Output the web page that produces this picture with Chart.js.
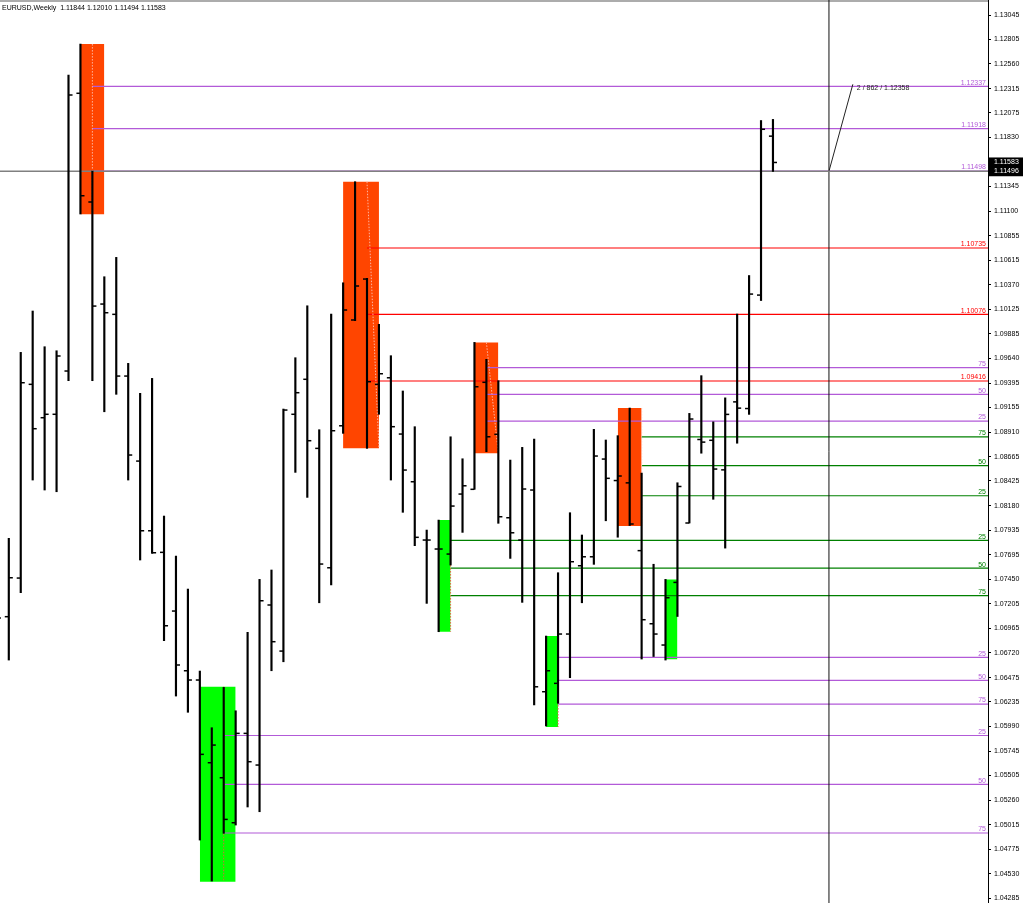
<!DOCTYPE html>
<html>
<head>
<meta charset="utf-8">
<script src="https://cdn.jsdelivr.net/npm/chart.js@4.4.1/dist/chart.umd.min.js"></script>
<style>
  html, body { margin: 0; padding: 0; background: #fff; }
  canvas { display: block; }
</style>
</head>
<body>
<canvas id="priceChart" width="1023" height="903"></canvas>
<script>
const symbolTitle = 'EURUSD,Weekly  1.11844 1.12010 1.11494 1.11583';

// weekly OHLC, oldest first; bar -1 is cut by the left edge
const firstBar = -1;
const opens  = [1.06947, 1.07079, 1.07462, 1.09383, 1.09052, 1.09086, 1.09515, 1.12269, 1.11191, 1.10179,
                1.10077, 1.09465, 1.08622, 1.07931, 1.07717, 1.07135, 1.06543, 1.06451, 1.05631, 1.05482,
                1.05036, 1.05922, 1.05608, 1.07195, 1.06738, 1.09086, 1.09433, 1.08748, 1.07564, 1.08972,
                1.10021, 1.10427, 1.09383, 1.09448, 1.08890, 1.08417, 1.07839, 1.07750, 1.07700, 1.08295,
                1.08342, 1.09403, 1.08887, 1.08060, 1.07839, 1.08335, 1.06335, 1.06418, 1.06907, 1.07584,
                1.07673, 1.08642, 1.08429, 1.08406, 1.07734, 1.07009, 1.06798, 1.07419, 1.08008, 1.08836,
                1.08828, 1.08535, 1.09209, 1.09143, 1.10268, 1.11844];
const highs  = [1.07244, 1.07856, 1.09700, 1.10110, 1.09756, 1.09716, 1.12450, 1.12757, 1.11498, 1.10450,
                1.10642, 1.09591, 1.09294, 1.09442, 1.08077, 1.07680, 1.07353, 1.06540, 1.05978, 1.06378,
                1.06146, 1.06924, 1.07449, 1.07542, 1.09138, 1.09647, 1.10162, 1.08933, 1.10080, 1.10390,
                1.11392, 1.10434, 1.09978, 1.09667, 1.09317, 1.08963, 1.07938, 1.08037, 1.08863, 1.08645,
                1.09799, 1.09631, 1.09419, 1.08632, 1.08758, 1.08841, 1.06887, 1.07515, 1.08110, 1.07889,
                1.08937, 1.08831, 1.08874, 1.09148, 1.08503, 1.07599, 1.07449, 1.08407, 1.09095, 1.09469,
                1.09011, 1.09249, 1.10080, 1.10462, 1.11999, 1.12010];
const lows   = [1.06847, 1.06649, 1.07317, 1.08434, 1.08335, 1.08318, 1.09419, 1.11072, 1.09419, 1.09111,
                1.09284, 1.08434, 1.07641, 1.07707, 1.06841, 1.06292, 1.06131, 1.04864, 1.04458, 1.04931,
                1.05013, 1.05192, 1.05145, 1.06543, 1.06632, 1.08510, 1.08262, 1.07217, 1.07393, 1.08897,
                1.10014, 1.08748, 1.09086, 1.08434, 1.08114, 1.07783, 1.07211, 1.06930, 1.07591, 1.07915,
                1.08342, 1.08715, 1.08005, 1.07657, 1.07221, 1.06203, 1.05995, 1.06220, 1.06474, 1.07217,
                1.07598, 1.08030, 1.07867, 1.07983, 1.06659, 1.06684, 1.06649, 1.07081, 1.08008, 1.08700,
                1.08243, 1.07759, 1.08799, 1.09085, 1.10214, 1.11494];
const closes = [1.07066, 1.07465, 1.09399, 1.08943, 1.09086, 1.09664, 1.12252, 1.11253, 1.10159, 1.10093,
                1.09465, 1.08682, 1.07931, 1.07713, 1.06989, 1.06600, 1.06451, 1.05714, 1.05806, 1.05069,
                1.05922, 1.05641, 1.07237, 1.06831, 1.09128, 1.09300, 1.08824, 1.07601, 1.08923, 1.10120,
                1.10358, 1.09409, 1.09488, 1.08963, 1.08533, 1.07866, 1.07839, 1.07750, 1.08176, 1.08377,
                1.09359, 1.08863, 1.08070, 1.07911, 1.08345, 1.06384, 1.06543, 1.06907, 1.07624, 1.07673,
                1.08672, 1.08451, 1.08474, 1.07998, 1.07049, 1.06907, 1.07267, 1.08370, 1.09039, 1.08810,
                1.08543, 1.09085, 1.09147, 1.10278, 1.11912, 1.11583];

// price axis labels
const yTicks = [1.13045, 1.12805, 1.12560, 1.12315, 1.12075, 1.11830, 1.11345, 1.11100, 1.10855, 1.10615,
                1.10370, 1.10125, 1.09885, 1.09640, 1.09395, 1.09155, 1.08910, 1.08665, 1.08425, 1.08180,
                1.07935, 1.07695, 1.07450, 1.07205, 1.06965, 1.06720, 1.06475, 1.06235, 1.05990, 1.05745,
                1.05505, 1.05260, 1.05015, 1.04775, 1.04530, 1.04285];
const bidPrice = 1.11583;

// rectangles: [fromBar, toBar, top, bottom]
const redBoxes   = [[6, 8, 1.12757, 1.11069], [28, 31, 1.11392, 1.08748], [39, 41, 1.09799, 1.08699], [51, 53, 1.09148, 1.07978]];
const greenBoxes = [[16, 19, 1.06384, 1.04451], [36, 37, 1.08037, 1.06930], [45, 46, 1.06887, 1.05985], [55, 56, 1.07449, 1.06656]];

// fibo levels: start bar, level prices, level names (null = show price)
const fibStart  = [7, 30, 40, 53, 37, 46, 18];
const fibLevels = [
  [1.12337, 1.11918, 1.11498],
  [1.10735, 1.10076, 1.09416],
  [1.09548, 1.09284, 1.09019],
  [1.08863, 1.08576, 1.08278],
  [1.07836, 1.07561, 1.07287],
  [1.06676, 1.06448, 1.06213],
  [1.05901, 1.05417, 1.04934]
];
const fibNames = [null, null, ['75', '50', '25'], ['75', '50', '25'], ['25', '50', '75'], ['25', '50', '75'], ['25', '50', '75']];
// fibo trend lines: [bar1, price1, bar2, price2]
const fibTrend = [[7, 1.12757, 7, 1.11069], [30, 1.11392, 31, 1.08748], [40, 1.09799, 41, 1.08699],
                  [53, 1.09148, 53, 1.07978], [37, 1.08037, 37, 1.06930], [46, 1.06887, 46, 1.05985], [18, 1.06384, 18, 1.04451]];

// crosshair + measure
const crossBar = 68.69;
const crossPrice = 1.11496;
const measureBars = 2;
const measurePrice = 1.12358;
const measureText = '2 / 862 / 1.12358';

// view window
const xMin = -0.737, xMax = 82.01;
const yMin = 1.04240, yMax = 1.13194;

const PURPLE = '#b25ad8';
const RED = '#ff0000';
const GREEN = '#008000';
const fibColors = [PURPLE, RED, PURPLE, GREEN, GREEN, PURPLE, PURPLE];
const trendColors = ['#ffb4a0', '#ffb4a0', '#ffb4a0', '#ffb4a0', '#e0603a', '#e0603a', '#e0603a'];
const FONT = '"Liberation Sans", Arial, sans-serif';

const barX = opens.map((_, k) => firstBar + k);

const datasets = [];

// high-low sticks
datasets.push({
  type: 'bar',
  data: barX.map((x, k) => ({ x: x, y: [lows[k], highs[k]] })),
  backgroundColor: '#000',
  borderWidth: 0,
  barThickness: 1.5,
  grouped: false,
  order: 1
});
// open / close ticks
datasets.push({
  type: 'scatter',
  data: barX.map((x, k) => ({ x: x - 0.17, y: opens[k] })),
  pointStyle: 'line', pointRadius: 2, borderColor: '#000', borderWidth: 1.5,
  order: 0
});
datasets.push({
  type: 'scatter',
  data: barX.map((x, k) => ({ x: x + 0.17, y: closes[k] })),
  pointStyle: 'line', pointRadius: 2, borderColor: '#000', borderWidth: 1.5,
  order: 0
});

function boxSet(b, color) {
  return {
    type: 'line',
    data: [{ x: b[0], y: b[2] }, { x: b[1], y: b[2] }],
    borderWidth: 0, borderColor: color, backgroundColor: color,
    pointRadius: 0, fill: { value: b[3] }, order: 10
  };
}
redBoxes.forEach(b => datasets.push(boxSet(b, '#ff4500')));
greenBoxes.forEach(b => datasets.push(boxSet(b, '#00ff00')));

fibLevels.forEach((lv, i) => {
  lv.forEach(p => {
    datasets.push({
      type: 'line',
      data: [{ x: fibStart[i], y: p }, { x: xMax, y: p }],
      borderColor: fibColors[i], borderWidth: 1.2, pointRadius: 0, fill: false, order: 6
    });
  });
});

fibTrend.forEach((t, i) => {
  datasets.push({
    type: 'line',
    data: [{ x: t[0], y: t[1] }, { x: t[2], y: t[3] }],
    borderColor: trendColors[i], borderWidth: 1, borderDash: [1.5, 1.5],
    pointRadius: 0, fill: false, order: 5
  });
});

// crosshair
datasets.push({
  type: 'line',
  data: [{ x: xMin, y: crossPrice }, { x: xMax, y: crossPrice }],
  borderColor: '#808080', borderWidth: 1.5, pointRadius: 0, fill: false, order: 3
});
datasets.push({
  type: 'line',
  data: [{ x: crossBar, y: yMin }, { x: crossBar, y: yMax }],
  borderColor: '#111', borderWidth: 1, pointRadius: 0, fill: false, order: 3
});
datasets.push({
  type: 'line',
  data: [{ x: crossBar, y: crossPrice }, { x: crossBar + measureBars, y: measurePrice }],
  borderColor: '#222', borderWidth: 1, pointRadius: 0, fill: false, order: 3
});

const textLayer = {
  id: 'textLayer',
  beforeDatasetsDraw(chart) {
    const { ctx, chartArea } = chart;
    ctx.save();
    ctx.strokeStyle = '#909090';
    ctx.lineWidth = 1.5;
    ctx.beginPath();
    ctx.moveTo(0, 1);
    ctx.lineTo(chartArea.right, 1);
    ctx.stroke();
    ctx.restore();
  },
  afterDraw(chart) {
    const { ctx, chartArea, scales: { x, y } } = chart;
    ctx.save();
    ctx.font = '7px ' + FONT;
    ctx.textBaseline = 'middle';

    ctx.fillStyle = '#000';
    ctx.textAlign = 'left';
    ctx.fillText(symbolTitle, 2, 8);

    // level labels
    ctx.textAlign = 'right';
    ctx.textBaseline = 'bottom';
    fibLevels.forEach((lv, i) => {
      ctx.fillStyle = fibColors[i];
      lv.forEach((p, j) => {
        const txt = fibNames[i] ? fibNames[i][j] : p.toFixed(5);
        ctx.fillText(txt, chartArea.right - 2, y.getPixelForValue(p));
      });
    });

    // measure text
    ctx.fillStyle = '#222';
    ctx.textAlign = 'left';
    ctx.textBaseline = 'middle';
    ctx.fillText(measureText, x.getPixelForValue(crossBar + measureBars) + 4, y.getPixelForValue(measurePrice) + 4);

    // black price boxes on axis
    [bidPrice, crossPrice].forEach(p => {
      const py = y.getPixelForValue(p);
      ctx.fillStyle = '#000';
      ctx.fillRect(chartArea.right + 1, py - 5, chart.width - chartArea.right - 1, 10);
      ctx.fillStyle = '#fff';
      ctx.fillText(p.toFixed(5), chartArea.right + 6, py);
    });
    ctx.restore();
  }
};

new Chart(document.getElementById('priceChart'), {
  type: 'scatter',
  data: { datasets: datasets },
  options: {
    responsive: false,
    animation: false,
    devicePixelRatio: 1,
    events: [],
    layout: { padding: 0, autoPadding: false },
    plugins: { legend: { display: false }, tooltip: { enabled: false } },
    scales: {
      x: { type: 'linear', min: xMin, max: xMax, display: false, offset: false },
      y: {
        type: 'linear',
        position: 'right',
        min: yMin,
        max: yMax,
        afterBuildTicks: (scale) => { scale.ticks = yTicks.map(v => ({ value: v })); },
        afterFit: (scale) => { scale.width = 35; scale.paddingTop = 0; scale.paddingBottom = 0; },
        border: { display: true, color: '#000', width: 1 },
        grid: { drawOnChartArea: false, drawTicks: true, tickLength: 3, tickColor: '#000' },
        ticks: {
          autoSkip: false,
          padding: 3,
          color: '#000',
          font: { family: FONT, size: 7 },
          callback: (v) => Number(v).toFixed(5)
        }
      }
    }
  },
  plugins: [textLayer]
});
</script>
</body>
</html>
